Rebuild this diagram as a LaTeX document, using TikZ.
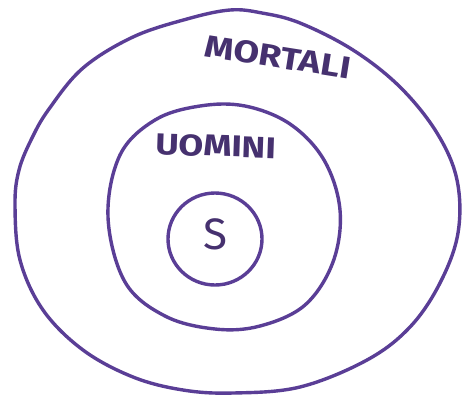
\documentclass[tikz,border=0pt]{standalone}
\usepackage{fontspec}
\setmainfont{Fira Sans}
\definecolor{pen}{HTML}{5A3E96}
\definecolor{ink}{HTML}{46316F}
\begin{document}
\begin{tikzpicture}[x=1pt,y=-1pt,
  ring/.style={draw=pen,line width=3.4pt,line join=round},
  lbl/.style={text=ink,inner sep=0pt}]
\useasboundingbox (0,0) rectangle (470,405);
\fill[white] (0,0) rectangle (470,405);
% outer
\draw[ring] plot[smooth cycle,tension=0.6] coordinates {
 (15,205) (19,170) (32,138) (49,109) (83,68) (133,37) (187,19) (230,10) (262,13)
 (300,23) (353,50) (400,87) (437,133) (457,180) (458,233) (440,283)
 (410,327) (367,360) (300,387) (233,393) (183,390) (133,377) (83,350)
 (43,310) (20,260)};
% middle
\draw[ring] plot[smooth cycle,tension=0.6] coordinates {
 (108,217) (120,155) (155,120) (200,106) (245,106) (290,124) (324,160)
 (340,210) (333,262) (305,305) (260,326) (215,329) (165,316) (125,282)};
% inner
\draw[ring] (215,239) ellipse [x radius=47pt,y radius=46pt];
\node[lbl,rotate=-9,xscale=1.2,font=\bfseries\fontsize{31}{31}\selectfont] (mortali) at (278,57) {MORTALI};
\node[lbl,rotate=-2,xscale=1.2,font=\bfseries\fontsize{30}{30}\selectfont] (uomini) at (216,146) {UOMINI};
\node[lbl,font=\fontsize{44}{44}\selectfont] (s) at (215,234) {S};
\end{tikzpicture}
\end{document}
